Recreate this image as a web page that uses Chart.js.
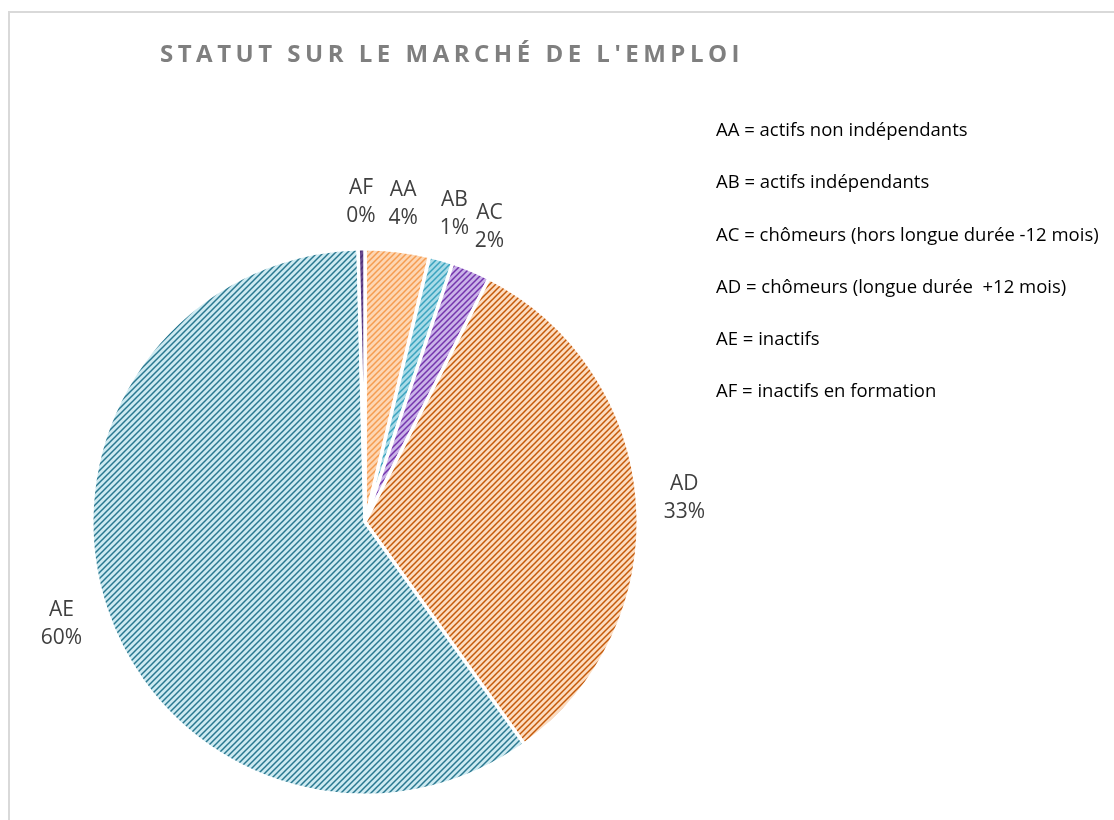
<!DOCTYPE html>
<html>
<head>
<meta charset="utf-8">
<script src="https://cdn.jsdelivr.net/npm/chart.js@4"></script>
<style>
    body { margin: 0; background: #fff; }
    #cadre {
        position: absolute; left: 8px; top: 11px; width: 1120px; height: 830px;
        border: 2px solid #d9d9d9; box-sizing: border-box;
    }
    #titre {
        position: absolute; left: 160px; top: 36px;
        font-family: "Open Sans", sans-serif; font-weight: bold; font-size: 24px;
        letter-spacing: 4.5px; color: #7f7f7f; white-space: nowrap;
    }
    #legende {
        position: absolute; left: 716px; top: 116px;
        font-family: "Open Sans", sans-serif; font-size: 18.5px; color: #000;
    }
    #legende div { height: 52.3px; white-space: pre; }
    #zone { position: absolute; left: 0; top: 0; width: 1114px; height: 820px; }
</style>
</head>
<body>
<div id="cadre"></div>
<div id="zone"><canvas id="statut-emploi"></canvas></div>
<div id="titre">STATUT SUR LE MARCHÉ DE L'EMPLOI</div>
<div id="legende"></div>

<script>
// Données
const categories = ['AA', 'AB', 'AC', 'AD', 'AE', 'AF'];
const valeurs = [3.8, 1.4, 2.3, 32.6, 59.5, 0.4];
const definitions = [
    'AA = actifs non indépendants',
    'AB = actifs indépendants',
    'AC = chômeurs (hors longue durée -12 mois)',
    'AD = chômeurs (longue durée  +12 mois)',
    'AE = inactifs',
    'AF = inactifs en formation'
];

// couleurs : [fond clair, hachures]
const couleurs = [
    ['#fdd6b3', '#f59c50'],
    ['#a9dbe7', '#3aa3bf'],
    ['#c9b2e8', '#7434ad'],
    ['#fcdcc0', '#c45a0a'],
    ['#cdeaf1', '#2a7890'],
    ['#6a4a90', '#4e2f78']
];

// Légende texte
const legende = document.getElementById('legende');
definitions.forEach(function (t) {
    const d = document.createElement('div');
    d.textContent = t;
    legende.appendChild(d);
});

// Motif hachuré en diagonale
function motif(fond, trait) {
    const c = document.createElement('canvas');
    c.width = 6; c.height = 6;
    const g = c.getContext('2d');
    g.fillStyle = fond;
    g.fillRect(0, 0, 6, 6);
    g.strokeStyle = trait;
    g.lineWidth = 1.5;
    g.beginPath();
    g.moveTo(-1, 7); g.lineTo(7, -1);
    g.moveTo(-1, 1); g.lineTo(1, -1);
    g.moveTo(5, 7); g.lineTo(7, 5);
    g.stroke();
    return g.createPattern(c, 'repeat');
}

const total = valeurs.reduce(function (a, b) { return a + b; }, 0);

// Étiquettes à l'extérieur du camembert
const etiquettes = {
    id: 'etiquettes',
    afterDatasetsDraw(chart) {
        const ctx = chart.ctx;
        const meta = chart.getDatasetMeta(0);
        ctx.save();
        ctx.font = '21px "Open Sans", sans-serif';
        ctx.fillStyle = '#404040';
        ctx.textAlign = 'center';
        ctx.textBaseline = 'middle';
        meta.data.forEach(function (arc, i) {
            const p = arc.getProps(['x', 'y', 'startAngle', 'endAngle', 'outerRadius'], true);
            const a = (p.startAngle + p.endAngle) / 2;
            const r = p.outerRadius + 47;
            const x = p.x + Math.cos(a) * r;
            const y = p.y + Math.sin(a) * r;
            ctx.fillText(categories[i], x, y - 14);
            ctx.fillText(Math.round(valeurs[i] / total * 100) + '%', x, y + 14);
        });
        ctx.restore();
    }
};

new Chart(document.getElementById('statut-emploi'), {
    type: 'pie',
    data: {
        labels: categories,
        datasets: [{
            data: valeurs,
            backgroundColor: couleurs.map(function (c) { return motif(c[0], c[1]); }),
            borderColor: '#ffffff',
            borderWidth: 3.5,
            hoverOffset: 0
        }]
    },
    options: {
        responsive: true,
        maintainAspectRatio: false,
        animation: false,
        layout: {
            padding: { left: 90, right: 474, top: 247, bottom: 23 }
        },
        plugins: {
            legend: { display: false },
            tooltip: { enabled: false }
        }
    },
    plugins: [etiquettes]
});
</script>
</body>
</html>
